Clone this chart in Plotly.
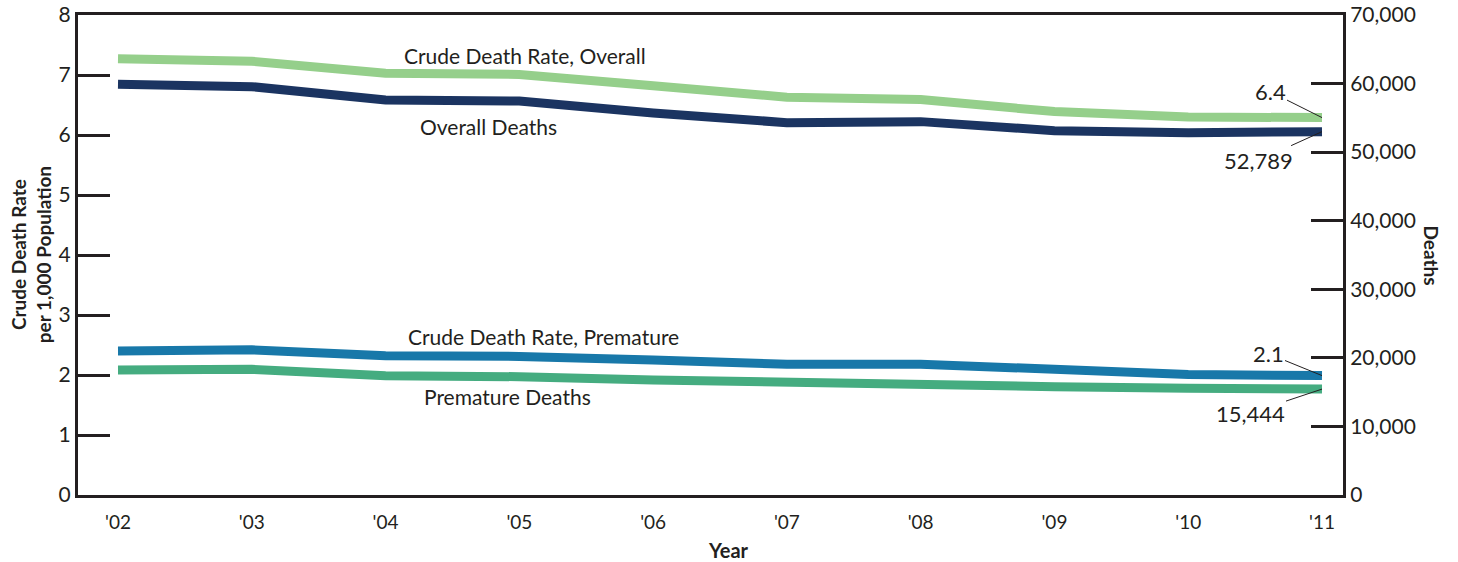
import plotly.graph_objects as go

years = ["'02", "'03", "'04", "'05", "'06", "'07", "'08", "'09", "'10", "'11"]
rate_overall = [7.27, 7.23, 7.03, 7.01, 6.82, 6.63, 6.59, 6.39, 6.30, 6.29]
deaths_overall = [59900, 59550, 57600, 57450, 55700, 54300, 54450, 53130, 52840, 52989]
rate_premature = [2.40, 2.42, 2.32, 2.31, 2.25, 2.18, 2.18, 2.08, 2.01, 1.99]
deaths_premature = [18230, 18330, 17400, 17250, 16770, 16380, 16230, 15800, 15560, 15444]

end_label_rate_overall = "6.4"
end_label_deaths_overall = "52,789"
end_label_rate_premature = "2.1"
end_label_deaths_premature = "15,444"

FONT = "Lato"
DARK = "#231f20"

fig = go.Figure()
fig.add_trace(go.Scatter(x=years, y=rate_overall, mode="lines",
                         line=dict(color="#95cf8b", width=9), yaxis="y"))
fig.add_trace(go.Scatter(x=years, y=deaths_overall, mode="lines",
                         line=dict(color="#1b3461", width=9), yaxis="y2"))
fig.add_trace(go.Scatter(x=years, y=rate_premature, mode="lines",
                         line=dict(color="#1878a9", width=9), yaxis="y"))
fig.add_trace(go.Scatter(x=years, y=deaths_premature, mode="lines",
                         line=dict(color="#45ac80", width=9), yaxis="y2"))

ann = []
def label(text, x, y, yref="y"):
    ann.append(dict(text=text, x=x, y=y, xref="x", yref=yref, showarrow=False,
                    xanchor="center", yanchor="middle",
                    font=dict(family=FONT, size=21, color=DARK)))

label("Crude Death Rate, Overall", 3.04, 7.33)
label("Overall Deaths", 2.77, 6.15)
label("Crude Death Rate, Premature", 3.18, 2.65)
label("Premature Deaths", 2.91, 1.65)

def end_label(text, y, ax, ay, yref):
    ann.append(dict(text=text, x=years[-1], y=y, xref="x", yref=yref,
                    showarrow=True, arrowhead=0, arrowwidth=1, arrowcolor=DARK,
                    ax=ax, ay=ay, standoff=0,
                    font=dict(family=FONT, size=22, color=DARK)))

end_label(end_label_rate_overall, rate_overall[-1], -52, -26, "y")
end_label(end_label_deaths_overall, deaths_overall[-1], -64, 29, "y2")
end_label(end_label_rate_premature, rate_premature[-1], -54, -22, "y")
end_label(end_label_deaths_premature, deaths_premature[-1], -72, 24, "y2")

ann.append(dict(text="<b>Crude Death Rate<br>per 1,000 Population</b>", x=-0.037, y=0.5,
                xref="paper", yref="paper", showarrow=False, textangle=-90,
                xanchor="center", yanchor="middle",
                font=dict(family=FONT, size=19, color=DARK)))
ann.append(dict(text="<b>Deaths</b>", x=1.07, y=0.5, xref="paper", yref="paper",
                showarrow=False, textangle=90, xanchor="center", yanchor="middle",
                font=dict(family=FONT, size=19, color=DARK)))
ann.append(dict(text="<b>Year</b>", x=0.514, y=-0.115, xref="paper", yref="paper",
                showarrow=False, xanchor="center", yanchor="middle",
                font=dict(family=FONT, size=20, color=DARK)))

fig.update_layout(
    width=1458, height=562,
    margin=dict(l=78, r=115, t=15, b=67, autoexpand=False),
    paper_bgcolor="white", plot_bgcolor="white",
    showlegend=False,
    font=dict(family=FONT, size=20, color=DARK),
    xaxis=dict(type="category", range=[-0.299, 9.157], showgrid=False, zeroline=False,
               showline=True, linecolor=DARK, linewidth=3, mirror=True, automargin=False,
               ticks="", tickfont=dict(size=19, color=DARK), ticklabelstandoff=8),
    yaxis=dict(range=[0, 8], tickvals=[0, 1, 2, 3, 4, 5, 6, 7, 8], showgrid=False,
               zeroline=False, showline=True, linecolor=DARK, linewidth=3, automargin=False,
               ticks="inside", ticklen=32, tickwidth=3, tickcolor=DARK,
               tickfont=dict(size=21, color=DARK)),
    yaxis2=dict(range=[0, 70000], tickvals=[0, 10000, 20000, 30000, 40000, 50000, 60000, 70000],
                tickformat=",", overlaying="y", side="right", showgrid=False, automargin=False,
                zeroline=False, showline=True, linecolor=DARK, linewidth=3,
                ticks="inside", ticklen=32, tickwidth=3, tickcolor=DARK,
                tickfont=dict(size=21, color=DARK), ticklabelstandoff=0),
    annotations=ann,
)

fig.write_html("out.html", config={"displayModeBar": False},
               post_script="document.body.style.margin='0';")
